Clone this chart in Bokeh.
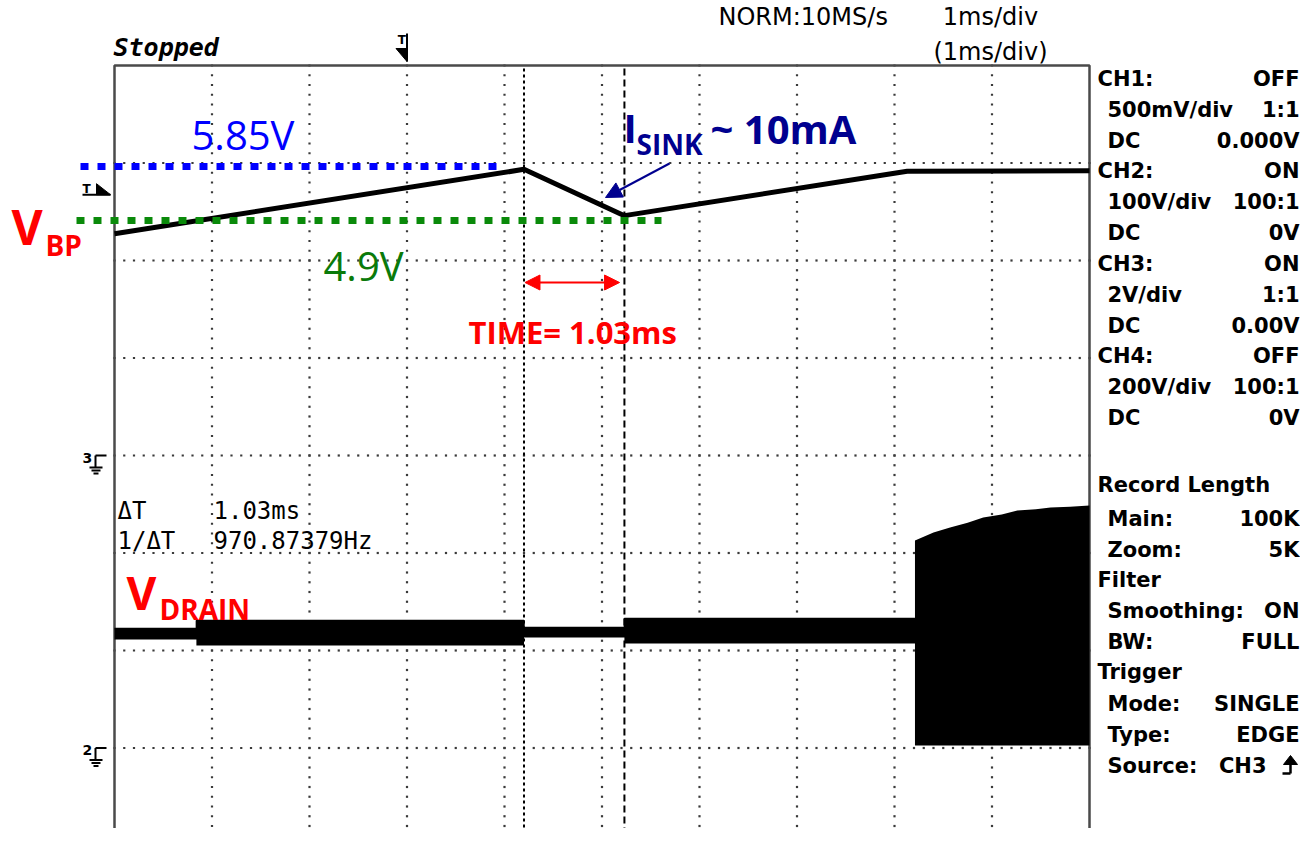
from bokeh.plotting import figure
from bokeh.models import Range1d, Arrow, NormalHead
from bokeh.embed import file_html
from bokeh.resources import INLINE
from bokeh.core.properties import value

# ---------------- data ----------------
# CH3 = V_BP, 2 V/div, ground on the centre line; time in ms from the left edge of the screen
t_bp = [0.0, 4.20, 5.23, 8.13, 10.0]
v_bp = [4.55, 5.87, 4.92, 5.83, 5.84]

# CH2 = V_DRAIN, 100 V/div, ground 3 div below centre: envelope of the switching band (V)
t_drain = [0.0, 0.84, 0.84, 4.20, 4.20, 5.23, 5.23, 8.21, 8.21, 8.40, 8.57, 8.75, 8.91, 9.10, 9.26, 9.45, 9.60, 9.80, 10.0]
drain_hi = [122.6, 122.6, 130.8, 130.8, 123.6, 123.6, 132.8, 132.8, 212.8, 221.0, 226.2, 231.0, 236.4, 239.5, 243.6, 245.0, 246.7, 247.5, 248.7]
drain_lo = [111.3, 111.3, 105.1, 105.1, 113.3, 113.3, 107.2, 107.2, 2.6, 2.6, 2.6, 2.6, 2.6, 2.6, 2.6, 2.6, 2.6, 2.6, 2.6]

cursor_t = [4.20, 5.23]          # ms, delta T = 1.03 ms
trig_time = 3.0                  # ms
trig_level = 5.35                # V on CH3
mark_hi_level = 5.93             # drawn 5.85 V marker (V on CH3)
mark_lo_level = 4.82             # drawn 4.9 V marker (V on CH3)
ch3_div, ch2_div, ch2_gnd_div = 2.0, 100.0, -3.0

panel_labels = ["CH1:", "500mV/div", "DC", "CH2:", "100V/div", "DC", "CH3:", "2V/div", "DC",
                "CH4:", "200V/div", "DC", "Record  Length", "Main:", "Zoom:", "Filter",
                "Smoothing:", "BW:", "Trigger", "Mode:", "Type:", "Source:"]
panel_values = ["OFF", "1:1", "0.000V", "ON", "100:1", "0V", "ON", "1:1", "0.00V",
                "OFF", "100:1", "0V", "", "100K", "5K", "", "ON", "FULL", "", "SINGLE", "EDGE", "CH3"]
panel_indent = [0, 1, 1, 0, 1, 1, 0, 1, 1, 0, 1, 1, 0, 1, 1, 0, 1, 1, 0, 1, 1, 1]
panel_rows_y = [78, 109, 140, 170, 201, 232, 263, 294, 325, 355, 386, 417,
                484, 518, 549, 579, 610, 641, 671, 703, 734, 765]

# ---------------- geometry helpers (screen px -> divisions) ----------------
PX = 97.5
X0, Y0 = 114.0, 455.0


def dx(X):
    return (X - X0) / PX


def dy(Y):
    return (Y0 - Y) / PX


ytop, ybot = dy(0), dy(828)
p = figure(width=1300, height=828, x_range=Range1d(dx(0), dx(1300)), y_range=Range1d(ybot, ytop),
           output_backend="svg", toolbar_location=None, min_border=0,
           x_axis_type=None, y_axis_type=None)
p.outline_line_color = None
p.background_fill_color = "white"
p.border_fill_color = "white"
p.extra_y_ranges = {
    "ch3": Range1d(ybot * ch3_div, ytop * ch3_div),
    "ch2": Range1d((ybot - ch2_gnd_div) * ch2_div, (ytop - ch2_gnd_div) * ch2_div),
}

GRID = "#3a3a3a"
# graticule: dotted, one dot every 0.1 division
gx, gy = [], []
for i in range(1, 10):
    for k in range(0, 81):
        gx.append(i)
        gy.append(-4 + k / 10)
for j in range(-3, 4):
    for k in range(0, 101):
        gx.append(k / 10)
        gy.append(j)
p.scatter(gx, gy, marker="square", size=2.2, fill_color=GRID, line_color=None)
# screen border
p.multi_line(xs=[[0, 0, 10, 10]], ys=[[-4.2, 4, 4, -4.2]], line_color="#4a4a4a", line_width=2.5)

# cursors
p.line([cursor_t[0], cursor_t[0]], [-4, 4], line_color="black", line_width=2, line_dash="3 3")
p.line([cursor_t[1], cursor_t[1]], [-4, 4], line_color="black", line_width=2, line_dash="7 4")

# traces
p.varea(x=t_drain, y1=drain_lo, y2=drain_hi, y_range_name="ch2", fill_color="black")
p.line(t_drain[:8], drain_hi[:8], y_range_name="ch2", line_color="black", line_width=1.5)
p.line(t_bp, v_bp, y_range_name="ch3", line_color="black", line_width=5, line_join="round")

# hand-drawn marker lines
p.line([dx(80), dx(505)], [mark_hi_level, mark_hi_level], y_range_name="ch3",
       line_color="#0000ff", line_width=7, line_dash="8 9")
p.line([dx(76), dx(661)], [mark_lo_level, mark_lo_level], y_range_name="ch3",
       line_color="#0a8a0a", line_width=7, line_dash="8 9")


def txt(s, X, Y, size, color="black", font="DejaVu Sans", style="normal", align="left"):
    # Y is the vertical centre of the capitals, in screen px
    p.text(x=[dx(X)], y=[dy(Y)], text=[s], text_font=value(font), text_font_size=f"{size}px",
           text_font_style=style, text_color=color, text_align=align, text_baseline="middle")


# header
txt("Stopped", 113, 47, 25, font="DejaVu Sans Mono", style="bold italic")
txt("NORM:10MS/s", 718, 16, 24)
txt("1ms/div", 990, 16, 24, align="center")
txt("(1ms/div)", 990, 51, 24, align="center")

# trigger position marker (top)
tx = trig_time
p.text(x=[tx], y=[dy(39)], text=["T"], text_font=value("DejaVu Sans"), text_font_size="12px",
       text_font_style="bold", text_align="right", text_baseline="middle", x_offset=-1)
p.line([tx, tx], [dy(33), dy(61)], line_color="black", line_width=2)
p.patch(x=[tx - 11 / PX, tx, tx], y=[dy(48), dy(48), dy(61)], fill_color="black", line_color="black")

# trigger level marker (left)
ly = trig_level / ch3_div
p.text(x=[dx(82)], y=[ly], text=["T"], text_font=value("DejaVu Sans"), text_font_size="12px",
       text_font_style="bold", text_align="left", text_baseline="middle", y_offset=-6)
p.line([dx(82), dx(110)], [ly, ly], line_color="black", line_width=2)
p.patch(x=[dx(96), dx(96), dx(110)], y=[ly, ly + 11 / PX, ly], fill_color="black", line_color="black")


# ground markers
def ground(label, gdiv):
    p.text(x=[dx(82)], y=[gdiv], text=[label], text_font=value("DejaVu Sans"), text_font_size="14px",
           text_font_style="bold", text_align="left", text_baseline="middle", y_offset=2)
    s = 1 / PX
    p.segment(x0=[dx(95), dx(95), dx(89), dx(91), dx(93)],
              y0=[gdiv, gdiv, gdiv - 12 * s, gdiv - 15 * s, gdiv - 18 * s],
              x1=[dx(95), dx(106), dx(102), dx(100), dx(98)],
              y1=[gdiv - 12 * s, gdiv, gdiv - 12 * s, gdiv - 15 * s, gdiv - 18 * s],
              line_color="black", line_width=2)


ground("3", 0.0)
ground("2", ch2_gnd_div)

# cursor readout
for lab, val, Y in [("\u0394T", "1.03ms", 510), ("1/\u0394T", "970.87379Hz", 540)]:
    txt(lab, 117, Y, 24, font="DejaVu Sans Mono")
    txt(val, 213, Y, 24, font="DejaVu Sans Mono")

# side panel
for lab, val, ind, Y in zip(panel_labels, panel_values, panel_indent, panel_rows_y):
    txt(lab, 1097 + 10 * ind, Y, 21, style="bold")
    if val:
        if lab == "Source:":
            txt(val, 1266, Y, 21, style="bold", align="right")
        else:
            txt(val, 1299, Y, 21, style="bold", align="right")
# rising edge symbol
p.segment(x0=[dx(1282), dx(1290)], y0=[dy(773), dy(773)], x1=[dx(1290), dx(1290)], y1=[dy(773), dy(757)],
          line_color="black", line_width=2.5)
p.patch(x=[dx(1283), dx(1290), dx(1297)], y=[dy(764), dy(755), dy(764)], fill_color="black", line_color="black")

# annotations
RED, NAVY = "#ff0000", "#00008f"
txt("5.85V", 191, 134, 40, color="#0000ff", font="Open Sans")
txt("4.9V", 323, 265, 40, color="#0a7a0a", font="Open Sans")
txt("V", 11, 226, 48, color=RED, font="Open Sans", style="bold")
txt("BP", 45, 244, 28, color=RED, font="Open Sans", style="bold")
txt("V", 126, 591, 46, color=RED, font="Open Sans", style="bold")
txt("DRAIN", 159, 608, 28, color=RED, font="Open Sans", style="bold")
txt("I", 623, 127, 40, color=NAVY, font="Open Sans", style="bold")
txt("SINK", 636, 143, 28, color=NAVY, font="Open Sans", style="bold")
txt("~ 10mA", 710, 128, 40, color=NAVY, font="Open Sans", style="bold")
txt("TIME= 1.03ms", 468, 331, 31, color=RED, font="Open Sans", style="bold")

p.add_layout(Arrow(end=NormalHead(size=16, fill_color=NAVY, line_color=NAVY),
                   x_start=dx(669), y_start=dy(163), x_end=dx(605), y_end=dy(197),
                   line_color=NAVY, line_width=2))
p.add_layout(Arrow(start=NormalHead(size=15, fill_color=RED, line_color=RED),
                   end=NormalHead(size=15, fill_color=RED, line_color=RED),
                   x_start=cursor_t[0] + 0.01, y_start=dy(282), x_end=cursor_t[1] - 0.05, y_end=dy(282),
                   line_color=RED, line_width=2))

open("out.html", "w").write(file_html(p, INLINE))
